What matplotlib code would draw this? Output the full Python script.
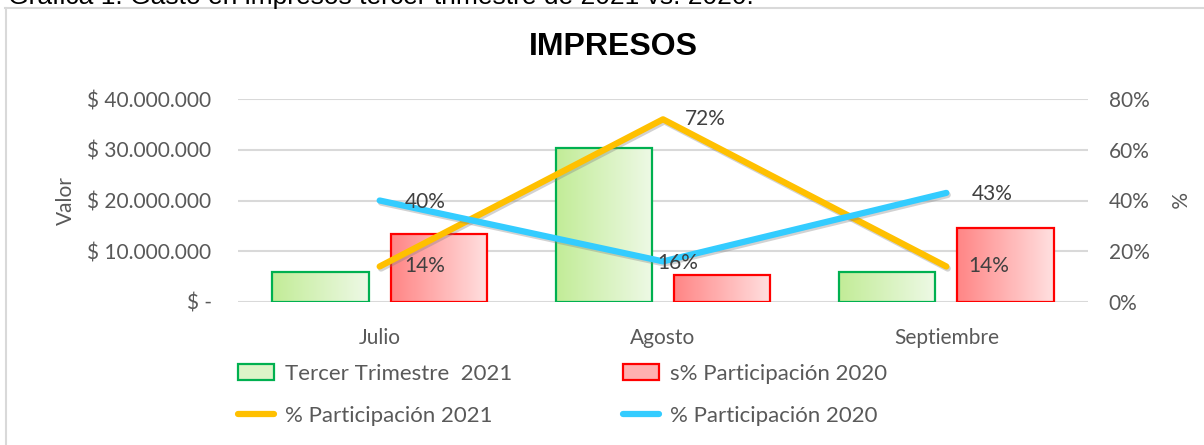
import matplotlib
matplotlib.use("Agg")
import matplotlib.pyplot as plt
import numpy as np
from matplotlib.colors import LinearSegmentedColormap
from matplotlib.lines import Line2D
from matplotlib.patches import Patch
import matplotlib.patheffects as pe

months = ["Julio", "Agosto", "Septiembre"]
gasto_2021 = [5900000, 30300000, 5900000]
gasto_2020 = [13400000, 5300000, 14600000]
part_2021 = [0.14, 0.72, 0.14]
part_2020 = [0.40, 0.16, 0.43]
left_ticks = [0, 10000000, 20000000, 30000000, 40000000]
left_tick_labels = ["$ -", "$ 10.000.000", "$ 20.000.000", "$ 30.000.000", "$ 40.000.000"]
right_ticks = [0, 0.2, 0.4, 0.6, 0.8]

GRAY = "#595959"
plt.rcParams["font.family"] = ["Lato", "DejaVu Sans"]

fig = plt.figure(figsize=(12.04, 4.45), dpi=100)
W, H = 1204, 445

# chart frame (top and left border only visible)
fig.add_artist(Line2D([5 / W, 1], [1 - 8 / H, 1 - 8 / H], color="#d9d9d9", lw=1.5,
                      transform=fig.transFigure))
fig.add_artist(Line2D([6 / W, 6 / W], [0, 1 - 8 / H], color="#d9d9d9", lw=1.5,
                      transform=fig.transFigure))

# caption, cut by the top edge as in the source
fig.text(8 / W, 1 - 4 / H, "Gráfica 1. Gasto en impresos tercer trimestre de 2021 vs. 2020.",
         fontsize=19, family="Liberation Sans", ha="left", va="baseline", color="black")

ax = fig.add_axes([238 / W, 1 - 302 / H, 850 / W, 203 / H])
x = np.arange(len(months))
bw = 0.34
off = 0.209

bars_g = ax.bar(x - off, gasto_2021, bw, facecolor="none", edgecolor="#00b050", lw=1.6, zorder=3)
bars_r = ax.bar(x + off, gasto_2020, bw, facecolor="none", edgecolor="#ff0000", lw=1.6, zorder=3)

cmap_g = LinearSegmentedColormap.from_list("g", ["#c2ec97", "#eef9e6"])
cmap_r = LinearSegmentedColormap.from_list("r", ["#ff8585", "#ffe0e0"])
grad = np.linspace(0, 1, 256).reshape(1, -1)
for bars, cm in ((bars_g, cmap_g), (bars_r, cmap_r)):
    for b in bars:
        bx, by = b.get_x(), b.get_y()
        im = ax.imshow(grad, extent=(bx, bx + b.get_width(), by, by + b.get_height()),
                       cmap=cm, aspect="auto", zorder=2, interpolation="bicubic")
        im.set_clip_path(b)

ax.set_xlim(-0.5, 2.5)
ax.set_ylim(0, 40000000)
ax.set_yticks(left_ticks)
ax.set_yticklabels(left_tick_labels)
ax.set_xticks(x)
ax.set_xticklabels(months)
ax.tick_params(length=0, labelsize=15, colors=GRAY)
ax.tick_params(axis="y", pad=19)
ax.tick_params(axis="x", pad=19)
ax.grid(axis="y", color="#d9d9d9", lw=1.5)
ax.set_axisbelow(True)
for s in ax.spines.values():
    s.set_visible(False)
ax.set_ylabel("Valor", fontsize=15, color=GRAY, labelpad=8)

ax2 = ax.twinx()
shadow = [pe.SimpleLineShadow(offset=(1, -1.5), shadow_color="gray", alpha=0.35), pe.Normal()]
ln21, = ax2.plot(x, part_2021, color="#ffc000", lw=4.5, solid_capstyle="round", zorder=4,
                 path_effects=shadow)
ln20, = ax2.plot(x, part_2020, color="#33ccff", lw=4.5, solid_capstyle="round", zorder=4,
                 path_effects=shadow)
ax2.set_ylim(0, 0.8)
ax2.set_yticks(right_ticks)
ax2.set_yticklabels([f"{int(round(t * 100))}%" for t in right_ticks])
ax2.tick_params(length=0, labelsize=15, colors=GRAY, pad=15)
for s in ax2.spines.values():
    s.set_visible(False)
ax2.set_ylabel("%", fontsize=15, color=GRAY, rotation=270, labelpad=12, va="bottom")

lbl_off_21 = [18, 16, 16]
lbl_off_20 = [18, -4, 18]
for xi, v, o in zip(x, part_2021, lbl_off_21):
    ax2.annotate(f"{int(round(v * 100))}%", (xi, v), xytext=(o, 0), textcoords="offset points",
                 ha="left", va="center", fontsize=15, color="#404040", zorder=5)
for xi, v, o in zip(x, part_2020, lbl_off_20):
    ax2.annotate(f"{int(round(v * 100))}%", (xi, v), xytext=(o, -1),
                 textcoords="offset points", ha="left", va="center", fontsize=15,
                 color="#404040", zorder=5)

fig.text(613 / W, 1 - 47 / H, "IMPRESOS", fontsize=23, fontweight="bold",
         family="Liberation Sans", ha="center", va="center", color="black")

handles = [
    Patch(facecolor="#dcf4c8", edgecolor="#00b050", lw=1.6),
    Line2D([], [], color="#ffc000", lw=4.5, solid_capstyle="round"),
    Patch(facecolor="#ffb0b0", edgecolor="#ff0000", lw=1.6),
    Line2D([], [], color="#33ccff", lw=4.5, solid_capstyle="round"),
]
labels = ["Tercer Trimestre  2021", "% Participación 2021",
          "s% Participación 2020", "% Participación 2020"]
fig.legend(handles, labels, ncol=2, loc="upper left", bbox_to_anchor=(218 / W, 1 - 344 / H),
           frameon=False, fontsize=16, labelcolor=GRAY, handlelength=1.6, handleheight=0.75,
           handletextpad=0.5, columnspacing=5.0, labelspacing=0.98)

fig.savefig("out.png", dpi=100)
